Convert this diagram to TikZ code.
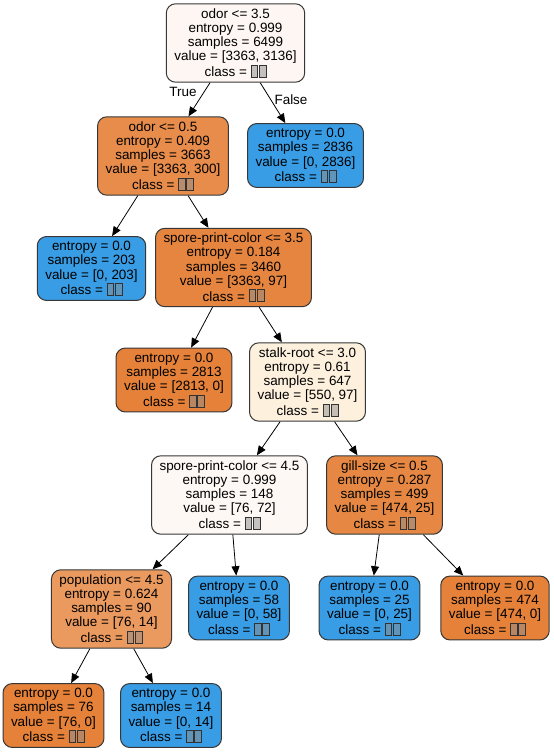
\documentclass[tikz,border=0pt]{standalone}
\usepackage{fontspec}
\setmainfont{Liberation Sans}
\usepackage{xcolor}
\usepackage{tikz}
\usetikzlibrary{arrows.meta}
\definecolor{dtedge}{RGB}{55,55,55}
\definecolor{dtblue}{RGB}{57,157,229}
\definecolor{dtorange}{RGB}{229,129,57}
\definecolor{dtroot}{RGB}{253,246,242}
\definecolor{dtodor}{RGB}{231,140,74}
\definecolor{dtspore}{RGB}{230,133,63}
\definecolor{dtstalk}{RGB}{253,241,222}
\definecolor{dtsporeb}{RGB}{253,248,244}
\definecolor{dtgill}{RGB}{230,136,67}
\definecolor{dtpop}{RGB}{235,154,95}
\tikzset{
  dtnode/.style={
    draw=dtedge, line width=0.75pt, rounded corners=7pt,
    align=center, inner xsep=6pt, inner ysep=3.6pt,
    font=\fontsize{10.1}{10.6}\selectfont
  },
  blueleaf/.style={dtnode, fill=dtblue},
  orangeleaf/.style={dtnode, fill=dtorange},
  arr/.style={-{Triangle[length=7pt,width=6pt]}, draw=black, line width=0.6pt},
  edgelbl/.style={font=\fontsize{10.1}{10.6}\selectfont}
}
% missing-glyph boxes as printed in the class line
\newcommand{\tofubox}{\tikz[baseline=0pt]\draw[sharp corners, black!80, fill=black!45,
  fill opacity=0.5, line width=0.5pt] (0pt,-0.3pt) rectangle (5pt,8.6pt);}
\newcommand{\tofu}{\tofubox\hspace{0.7pt}\tofubox}
\begin{document}
\begin{tikzpicture}[x=0.75pt,y=-0.75pt]
  \useasboundingbox[fill=white] (0,0) rectangle (553,752);
  % split nodes
  \node[dtnode, fill=dtroot] (root) at (235.5,43)
    {odor <= 3.5\\entropy = 0.999\\samples = 6499\\value = [3363, 3136]\\class = \tofu};
  \node[dtnode, fill=dtodor] (odor) at (163,156)
    {odor <= 0.5\\entropy = 0.409\\samples = 3663\\value = [3363, 300]\\class = \tofu};
  \node[blueleaf] (leafA) at (305.5,155.5)
    {entropy = 0.0\\samples = 2836\\value = [0, 2836]\\class = \tofu};
  \node[blueleaf] (leafB) at (91.5,268.5)
    {entropy = 0.0\\samples = 203\\value = [0, 203]\\class = \tofu};
  \node[dtnode, fill=dtspore] (sporeA) at (233.5,267.5)
    {spore-print-color <= 3.5\\entropy = 0.184\\samples = 3460\\value = [3363, 97]\\class = \tofu};
  \node[orangeleaf] (leafC) at (174,380)
    {entropy = 0.0\\samples = 2813\\value = [2813, 0]\\class = \tofu};
  \node[dtnode, fill=dtstalk] (stalk) at (307.5,382)
    {stalk-root <= 3.0\\entropy = 0.61\\samples = 647\\value = [550, 97]\\class = \tofu};
  \node[dtnode, fill=dtsporeb] (sporeB) at (229.5,495)
    {spore-print-color <= 4.5\\entropy = 0.999\\samples = 148\\value = [76, 72]\\class = \tofu};
  \node[dtnode, fill=dtgill] (gill) at (384.5,495)
    {gill-size <= 0.5\\entropy = 0.287\\samples = 499\\value = [474, 25]\\class = \tofu};
  \node[dtnode, fill=dtpop] (pop) at (111.5,609)
    {population <= 4.5\\entropy = 0.624\\samples = 90\\value = [76, 14]\\class = \tofu};
  \node[blueleaf] (leafD) at (239,608)
    {entropy = 0.0\\samples = 58\\value = [0, 58]\\class = \tofu};
  \node[blueleaf] (leafE) at (369.5,608)
    {entropy = 0.0\\samples = 25\\value = [0, 25]\\class = \tofu};
  \node[orangeleaf] (leafF) at (495,608)
    {entropy = 0.0\\samples = 474\\value = [474, 0]\\class = \tofu};
  \node[orangeleaf] (leafG) at (53.5,715.5)
    {entropy = 0.0\\samples = 76\\value = [76, 0]\\class = \tofu};
  \node[blueleaf] (leafH) at (171,715.5)
    {entropy = 0.0\\samples = 14\\value = [0, 14]\\class = \tofu};
  % connectors
  \draw[arr] (root) -- (odor);
  \draw[arr] (root) -- (leafA);
  \draw[arr] (odor) -- (leafB);
  \draw[arr] (odor) -- (sporeA);
  \draw[arr] (sporeA) -- (leafC);
  \draw[arr] (sporeA) -- (stalk);
  \draw[arr] (stalk) -- (sporeB);
  \draw[arr] (stalk) -- (gill);
  \draw[arr] (sporeB) -- (pop);
  \draw[arr] (sporeB) -- (leafD);
  \draw[arr] (gill) -- (leafE);
  \draw[arr] (gill) -- (leafF);
  \draw[arr] (pop) -- (leafG);
  \draw[arr] (pop) -- (leafH);
  \node[edgelbl] (lblT) at (183,92) {True};
  \node[edgelbl] (lblF) at (291,100) {False};
\end{tikzpicture}
\end{document}
